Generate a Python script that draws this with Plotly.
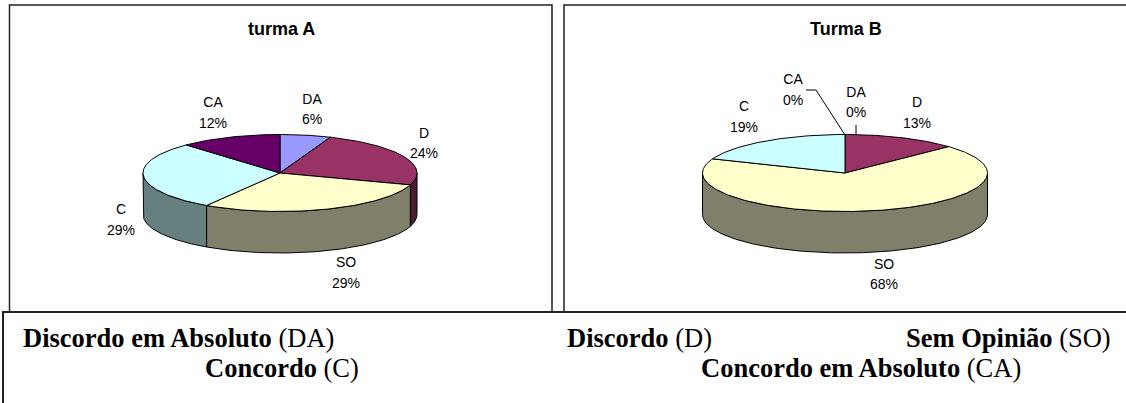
import numpy as np
import plotly.graph_objects as go

categories = ["DA", "D", "SO", "C", "CA"]
turma_a = [6, 24, 29, 29, 12]
turma_b = [0, 13, 68, 19, 0]
titles = ["turma A", "Turma B"]

top_colors = ["#9999FF", "#993366", "#FFFFCC", "#CCFFFF", "#660066"]
side_colors = ["#4D4D80", "#4D1A33", "#80806A", "#668080", "#330033"]

# Layout (pixel space of the page)
W, H = 1126, 403
pie_a = dict(cx=280, cy=173, rx=137, ry=38.5, depth=41.5)
pie_b = dict(cx=845, cy=173, rx=142.5, ry=38.5, depth=41.5)
label_a = [(312, 100, 120), (424, 134, 154), (346, 263, 284), (121, 210, 231), (213, 103, 124)]
label_b = [(856, 93, 113), (917, 103, 124), (884, 265, 285), (744, 107, 128), (793, 80, 101)]

fig = go.Figure()


def arc(p, a0, a1, dy=0.0):
    t = np.radians(np.linspace(a0, a1, max(2, int(abs(a1 - a0)) + 2)))
    return p["cx"] + p["rx"] * np.sin(t), p["cy"] - p["ry"] * np.cos(t) + dy


def poly(x, y, color):
    fig.add_trace(go.Scatter(x=list(x) + [x[0]], y=list(y) + [y[0]], mode="lines", fill="toself",
                             fillcolor=color, line=dict(color="black", width=1),
                             hoverinfo="skip", showlegend=False))


def draw_pie(values, p, labels):
    total = sum(values)
    edges = np.concatenate([[0], np.cumsum(values)]) * 360.0 / total
    # outer walls: only the front half of the rim shows
    for i, v in enumerate(values):
        a0, a1 = max(edges[i], 90), min(edges[i + 1], 270)
        if v > 0 and a1 > a0:
            x0, y0 = arc(p, a0, a1)
            x1, y1 = arc(p, a1, a0, p["depth"])
            poly(np.r_[x0, x1], np.r_[y0, y1], side_colors[i])
    # top face
    for i, v in enumerate(values):
        if v > 0:
            x0, y0 = arc(p, edges[i], edges[i + 1])
            poly(np.r_[p["cx"], x0], np.r_[p["cy"], y0], top_colors[i])
    # labels
    for name, v, (lx, y1, y2) in zip(categories, values, labels):
        fig.add_trace(go.Scatter(x=[lx, lx], y=[y1, y2], mode="text",
                                 text=[name, f"{round(v / total * 100)}%"],
                                 textposition="middle center",
                                 textfont=dict(family="Liberation Sans", size=14, color="black"),
                                 hoverinfo="skip", showlegend=False, cliponaxis=False))


draw_pie(turma_a, pie_a, label_a)
draw_pie(turma_b, pie_b, label_b)

# leader lines of the two 0 % labels in Turma B
for xs, ys in [([806, 816, 845], [90, 90, 135]), ([856, 856], [125, 135])]:
    fig.add_trace(go.Scatter(x=xs, y=ys, mode="lines", line=dict(color="black", width=1),
                             hoverinfo="skip", showlegend=False))

box = dict(type="rect", xref="x", yref="y", line=dict(color="#222222", width=1.5), layer="below")
shapes = [
    dict(box, x0=9.5, y0=5, x1=552, y1=312),
    dict(box, x0=564, y0=5, x1=1140, y1=312),
    dict(box, x0=3, y0=312, x1=1140, y1=420, line=dict(color="#222222", width=2)),
]

ann = []
for t, x in zip(titles, [281, 846]):
    ann.append(dict(x=x, y=29, text=f"<b>{t}</b>", showarrow=False, xref="x", yref="y",
                    font=dict(family="Liberation Sans", size=18, color="black")))
legend_items = [("Discordo em Absoluto", "DA", 21, 338, "left"),
                ("Discordo", "D", 565, 338, "left"),
                ("Sem Opinião", "SO", 1113, 338, "right"),
                ("Concordo", "C", 203, 368, "left"),
                ("Concordo em Absoluto", "CA", 699, 368, "left")]
for long_name, short, x, y, anchor in legend_items:
    ann.append(dict(x=x, y=y, text=f"<b>{long_name}</b> ({short})", showarrow=False, xref="x", yref="y",
                    xanchor=anchor, font=dict(family="Liberation Serif", size=26.5, color="black")))

fig.update_layout(
    width=W, height=H, margin=dict(l=0, r=0, t=0, b=0), paper_bgcolor="white", plot_bgcolor="white",
    xaxis=dict(range=[0, W], visible=False, fixedrange=True),
    yaxis=dict(range=[H, 0], visible=False, fixedrange=True),
    shapes=shapes, annotations=ann, showlegend=False,
)
fig.write_html("out.html", config={"displayModeBar": False},
               post_script="document.body.style.margin='0';document.body.style.overflow='hidden';")
